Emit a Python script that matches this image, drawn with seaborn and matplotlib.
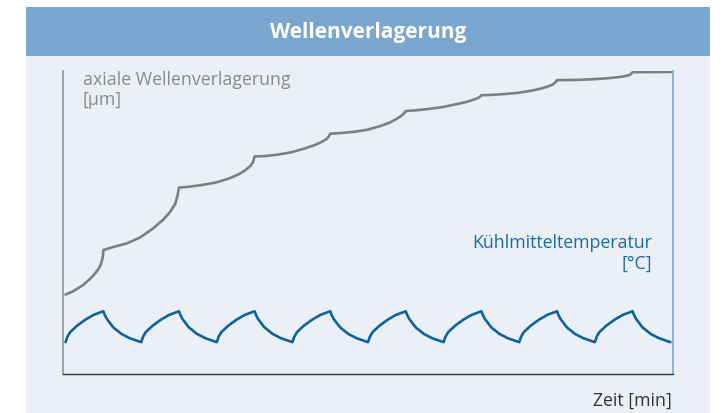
import matplotlib
matplotlib.use("Agg")
import matplotlib.pyplot as plt
from matplotlib.patches import Rectangle
import pandas as pd
import seaborn as sns

# axial shaft displacement (arbitrary units)
zeit_welle = [0.0, 1.0, 2.35, 3.45, 4.0, 4.35, 4.65, 4.85, 4.95,
              5.0, 6.3, 8.1, 9.9, 11.6, 12.9, 13.8, 14.5, 14.8,
              15.0, 16.3, 18.1, 19.9, 21.6, 22.9, 23.8, 24.5, 24.8,
              25.0, 26.3, 28.1, 29.9, 31.6, 32.9, 33.8, 34.5, 34.8,
              35.0, 36.3, 38.1, 39.9, 41.6, 42.9, 43.8, 44.5, 44.8,
              45.0, 46.3, 48.1, 49.9, 51.6, 52.9, 53.8, 54.5, 54.8,
              55.0, 56.3, 58.1, 59.9, 61.6, 62.9, 63.8, 64.5, 64.8,
              65.0, 66.3, 68.1, 69.9, 71.6, 72.9, 73.8, 74.5, 74.8,
              75.0, 80.3]
welle = [26.3, 27.4, 29.5, 32.0, 33.6, 34.8, 36.1, 37.9, 39.3,
         41.0, 42.0, 43.2, 45.2, 48.2, 51.0, 53.5, 56.2, 58.9,
         61.6, 61.9, 62.5, 63.3, 64.6, 66.0, 67.4, 68.9, 70.1,
         71.9, 72.0, 72.5, 73.3, 74.5, 75.6, 76.6, 77.6, 78.4,
         79.4, 79.6, 80.0, 80.7, 81.9, 83.1, 84.3, 85.5, 86.2,
         86.9, 87.1, 87.6, 88.2, 89.1, 89.8, 90.5, 91.1, 91.6,
         92.1, 92.2, 92.5, 92.9, 93.6, 94.3, 95.0, 95.7, 96.4,
         97.1, 97.1, 97.2, 97.4, 97.7, 98.0, 98.3, 98.7, 99.1,
         99.7, 99.8]

# coolant temperature, eight heating/cooling cycles
zeit_temp = [0.0, 0.25, 0.6, 1.5, 2.6, 3.7, 5.0, 5.2, 5.45, 6.3, 7.4, 8.5,
             10.0, 10.25, 10.6, 11.5, 12.6, 13.7, 15.0, 15.2, 15.45, 16.3, 17.4, 18.5,
             20.0, 20.25, 20.6, 21.5, 22.6, 23.7, 25.0, 25.2, 25.45, 26.3, 27.4, 28.5,
             30.0, 30.25, 30.6, 31.5, 32.6, 33.7, 35.0, 35.2, 35.45, 36.3, 37.4, 38.5,
             40.0, 40.25, 40.6, 41.5, 42.6, 43.7, 45.0, 45.2, 45.45, 46.3, 47.4, 48.5,
             50.0, 50.25, 50.6, 51.5, 52.6, 53.7, 55.0, 55.2, 55.45, 56.3, 57.4, 58.5,
             60.0, 60.25, 60.6, 61.5, 62.6, 63.7, 65.0, 65.2, 65.45, 66.3, 67.4, 68.5,
             70.0, 70.25, 70.6, 71.5, 72.6, 73.7, 75.0, 75.2, 75.45, 76.3, 77.4, 78.5,
             80.0]
temp = [10.6, 12.4, 13.9, 16.0, 18.0, 19.6, 20.8, 19.5, 18.3, 15.5, 13.3, 11.9,
        10.6, 12.4, 13.9, 16.0, 18.0, 19.6, 20.8, 19.5, 18.3, 15.5, 13.3, 11.9,
        10.6, 12.4, 13.9, 16.0, 18.0, 19.6, 20.8, 19.5, 18.3, 15.5, 13.3, 11.9,
        10.6, 12.4, 13.9, 16.0, 18.0, 19.6, 20.8, 19.5, 18.3, 15.5, 13.3, 11.9,
        10.6, 12.4, 13.9, 16.0, 18.0, 19.6, 20.8, 19.5, 18.3, 15.5, 13.3, 11.9,
        10.6, 12.4, 13.9, 16.0, 18.0, 19.6, 20.8, 19.5, 18.3, 15.5, 13.3, 11.9,
        10.6, 12.4, 13.9, 16.0, 18.0, 19.6, 20.8, 19.5, 18.3, 15.5, 13.3, 11.9,
        10.6, 12.4, 13.9, 16.0, 18.0, 19.6, 20.8, 19.5, 18.3, 15.5, 13.3, 11.9,
        10.6]

titel = "Wellenverlagerung"
label_welle = "axiale Wellenverlagerung\n[µm]"
label_temp = "Kühlmitteltemperatur\n[°C]"
label_zeit = "Zeit [min]"

sns.set_style("white")
plt.rcParams["font.family"] = ["Open Sans", "DejaVu Sans"]

fig = plt.figure(figsize=(7.21, 4.14), dpi=100)

# light panel and title bar
fig.add_artist(Rectangle((0.0356, 0.0), 0.949, 0.863, transform=fig.transFigure,
                         facecolor="#ebf0f7", edgecolor="none", zorder=0))
fig.add_artist(Rectangle((0.0356, 0.863), 0.949, 0.117, transform=fig.transFigure,
                         facecolor="#7ba6cf", edgecolor="none", zorder=0))
fig.text(0.510, 0.921, titel, color="white", fontsize=15, fontweight="bold",
         ha="center", va="center")

ax = fig.add_axes([0.0878, 0.0935, 0.8452, 0.7319])
ax.patch.set_alpha(0)

df_welle = pd.DataFrame({"Zeit": zeit_welle, "Wert": welle})
df_temp = pd.DataFrame({"Zeit": zeit_temp, "Wert": temp})
sns.lineplot(data=df_welle, x="Zeit", y="Wert", ax=ax, color="#7f7f7f",
             linewidth=1.9, estimator=None, sort=False,
             solid_joinstyle="round", solid_capstyle="round")
sns.lineplot(data=df_temp, x="Zeit", y="Wert", ax=ax, color="#10629f",
             linewidth=1.9, estimator=None, sort=False,
             solid_joinstyle="round", solid_capstyle="round")

ax.set_xlim(-0.3, 80.3)
ax.set_ylim(0, 100)
ax.set_xticks([])
ax.set_yticks([])
ax.set_xlabel("")
ax.set_ylabel("")

ax.spines["top"].set_visible(False)
ax.spines["left"].set_color("#9c9c9c")
ax.spines["left"].set_linewidth(1.3)
ax.spines["bottom"].set_color("#333333")
ax.spines["bottom"].set_linewidth(1.0)
ax.spines["right"].set_color("#8fb1d8")
ax.spines["right"].set_linewidth(1.4)

ax.text(2.3, 100.3, label_welle, color="#8a8a8a", fontsize=12.8,
        ha="left", va="top", linespacing=1.15)
ax.text(77.6, 46.6, label_temp, color="#1a6aa8", fontsize=12.8,
        ha="right", va="top", multialignment="right", linespacing=1.2)
fig.text(0.931, 0.031, label_zeit, color="#333333", fontsize=12.8,
         ha="right", va="center")

fig.savefig("out.png", dpi=100)
